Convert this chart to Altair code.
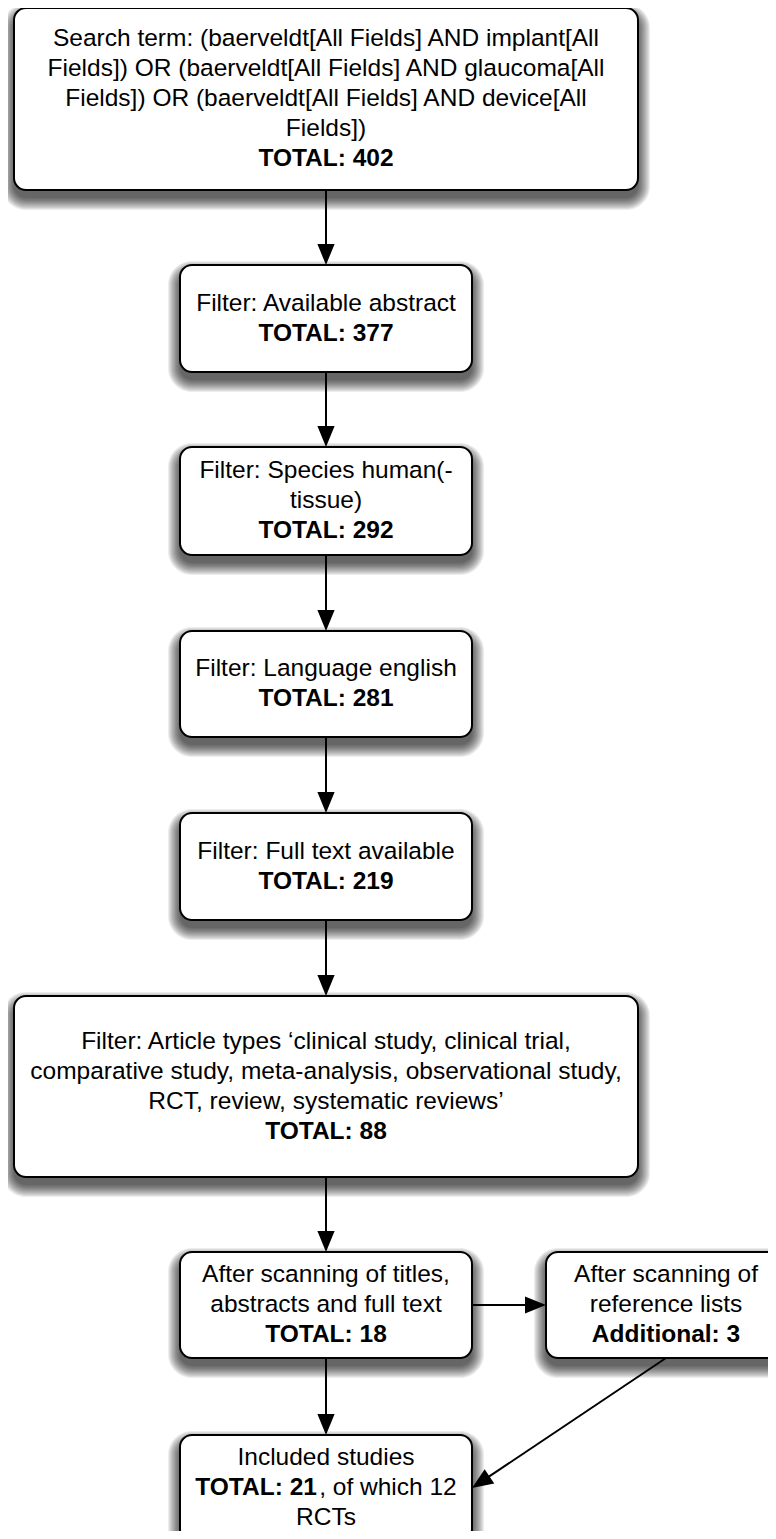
import math
import altair as alt
import pandas as pd

N, B = "normal", "bold"

# ---------------- content ----------------
box_text = [
    [[("Search term: (baerveldt[All Fields] AND implant[All", N)],
     [("Fields]) OR (baerveldt[All Fields] AND glaucoma[All", N)],
     [("Fields]) OR (baerveldt[All Fields] AND device[All", N)],
     [("Fields])", N)],
     [("TOTAL: 402", B)]],
    [[("Filter: Available abstract", N)], [("TOTAL: 377", B)]],
    [[("Filter: Species human(-", N)], [("tissue)", N)], [("TOTAL: 292", B)]],
    [[("Filter: Language english", N)], [("TOTAL: 281", B)]],
    [[("Filter: Full text available", N)], [("TOTAL: 219", B)]],
    [[("Filter: Article types \u2018clinical study, clinical trial,", N)],
     [("comparative study, meta-analysis, observational study,", N)],
     [("RCT, review, systematic reviews\u2019", N)],
     [("TOTAL: 88", B)]],
    [[("After scanning of titles,", N)], [("abstracts and full text", N)], [("TOTAL: 18", B)]],
    [[("After scanning of", N)], [("reference lists", N)], [("Additional: 3", B)]],
    [[("Included studies", N)], [("TOTAL: 21", B), (", of which 12", N)], [("RCTs", N)]],
]

# ---------------- layout (pixels of the page) ----------------
box_left = [14, 180, 180, 180, 180, 14, 180, 546, 180]
box_right = [638, 472, 472, 472, 472, 638, 472, 786, 472]
box_top = [8, 265, 447, 631, 813, 996, 1252, 1252, 1435]
box_bottom = [190, 372, 555, 737, 920, 1177, 1358, 1358, 1541]

# connectors: (from box, side, to box, side)
edges = [
    (0, "bottom", 1, "top"),
    (1, "bottom", 2, "top"),
    (2, "bottom", 3, "top"),
    (3, "bottom", 4, "top"),
    (4, "bottom", 5, "top"),
    (5, "bottom", 6, "top"),
    (6, "right", 7, "left"),
    (6, "bottom", 8, "top"),
    (7, "bottom", 8, "right"),
]

FONT = "Liberation Sans, Arial, Helvetica, sans-serif"
FONT_SIZE = 24.5
LINE_H = 30
HEAD_R = 10.5  # arrow head half length
RADIUS = 12

# Helvetica/Arial advance widths (per 1000 em) for mixed-weight line placement
W_NORMAL = {",": 278, " ": 278, "o": 556, "f": 278, "w": 722, "h": 556, "i": 222, "c": 500}
W_BOLD = {"T": 611, "O": 778, "A": 722, "L": 611, ":": 333, " ": 278}


def text_width(s, weight):
    table = W_BOLD if weight == B else W_NORMAL
    return sum(table.get(ch, 556) for ch in s) * FONT_SIZE / 1000.0


def anchor(i, side):
    cx = (box_left[i] + box_right[i]) / 2
    cy = (box_top[i] + box_bottom[i]) / 2
    return {"bottom": (cx, box_bottom[i]), "top": (cx, box_top[i]),
            "right": (box_right[i], cy), "left": (box_left[i], cy)}[side]


# ---------------- build tables ----------------
boxes = pd.DataFrame({"x0": box_left, "x1": box_right, "y0": box_top, "y1": box_bottom})

text_rows = []
for i, lines in enumerate(box_text):
    cx = (box_left[i] + box_right[i]) / 2
    cy = (box_top[i] + box_bottom[i]) / 2
    n = len(lines)
    for j, segs in enumerate(lines):
        y = cy + (j - (n - 1) / 2) * LINE_H
        if len(segs) == 1:
            text_rows.append({"x": cx, "y": y, "label": segs[0][0], "wt": segs[0][1], "al": "center"})
        else:
            total = sum(text_width(t, w) for t, w in segs)
            start = cx - total / 2
            for t, w in segs:
                text_rows.append({"x": start, "y": y, "label": t, "wt": w, "al": "left"})
                start += text_width(t, w)
texts = pd.DataFrame(text_rows)

line_rows, head_rows = [], []
for a, sa, b, sb in edges:
    x0, y0 = anchor(a, sa)
    x1, y1 = anchor(b, sb)
    dx, dy = x1 - x0, y1 - y0
    L = math.hypot(dx, dy)
    ux, uy = dx / L, dy / L
    line_rows.append({"x": x0, "y": y0, "x2": x1 - ux * (2 * HEAD_R - 2), "y2": y1 - uy * (2 * HEAD_R - 2)})
    ang = (math.degrees(math.atan2(dy, dx)) + 360) % 360
    head_rows.append({"x": x1 - ux * HEAD_R, "y": y1 - uy * HEAD_R, "angle": ang})
lines_df = pd.DataFrame(line_rows)
heads_df = pd.DataFrame(head_rows)

xs = alt.Scale(domain=[8, 768], nice=False, zero=False)
ys = alt.Scale(domain=[8, 1531], nice=False, zero=False, reverse=True)

layers = []

# soft drop shadow made of stacked translucent rounded rects
SH_DY, SH_K, SH_STEP, SH_OP = 8, 12, 1.1, 0.07
for k in range(SH_K):
    e = k * SH_STEP
    sh = pd.DataFrame({
        "x0": boxes["x0"] - e, "x1": boxes["x1"] + e,
        "y0": boxes["y0"] + SH_DY - e, "y1": boxes["y1"] + SH_DY + e,
    })
    layers.append(
        alt.Chart(sh).mark_rect(color="black", opacity=SH_OP, cornerRadius=RADIUS + e).encode(
            x=alt.X("x0:Q", scale=xs, axis=None), x2="x1:Q",
            y=alt.Y("y0:Q", scale=ys, axis=None), y2="y1:Q",
        )
    )

layers.append(
    alt.Chart(boxes).mark_rect(fill="white", stroke="black", strokeWidth=2, cornerRadius=RADIUS).encode(
        x=alt.X("x0:Q", scale=xs, axis=None), x2="x1:Q",
        y=alt.Y("y0:Q", scale=ys, axis=None), y2="y1:Q",
    )
)

layers.append(
    alt.Chart(lines_df).mark_rule(color="black", strokeWidth=2).encode(
        x=alt.X("x:Q", scale=xs, axis=None), x2="x2:Q",
        y=alt.Y("y:Q", scale=ys, axis=None), y2="y2:Q",
    )
)

layers.append(
    alt.Chart(heads_df).mark_point(
        shape="M 1 0 L -1 -0.82 L -1 0.82 Z", filled=True, fill="black",
        strokeWidth=0, opacity=1, size=(2 * HEAD_R) ** 2,
    ).encode(
        x=alt.X("x:Q", scale=xs, axis=None),
        y=alt.Y("y:Q", scale=ys, axis=None),
        angle=alt.Angle("angle:Q", scale=None),
    )
)

for weight in (N, B):
    for align in ("center", "left"):
        sub = texts[(texts["wt"] == weight) & (texts["al"] == align)]
        if len(sub) == 0:
            continue
        layers.append(
            alt.Chart(sub).mark_text(
                font=FONT, fontSize=FONT_SIZE, fontWeight=weight, align=align,
                baseline="middle", color="black",
            ).encode(
                x=alt.X("x:Q", scale=xs, axis=None),
                y=alt.Y("y:Q", scale=ys, axis=None),
                text="label:N",
            )
        )

chart = alt.layer(*layers).properties(
    width=760, height=1523, padding=0, autosize=alt.AutoSizeParams(type="none"),
    background="white",
).configure_view(strokeWidth=0)

chart.save("out.html", embed_options={"renderer": "svg", "actions": False})
